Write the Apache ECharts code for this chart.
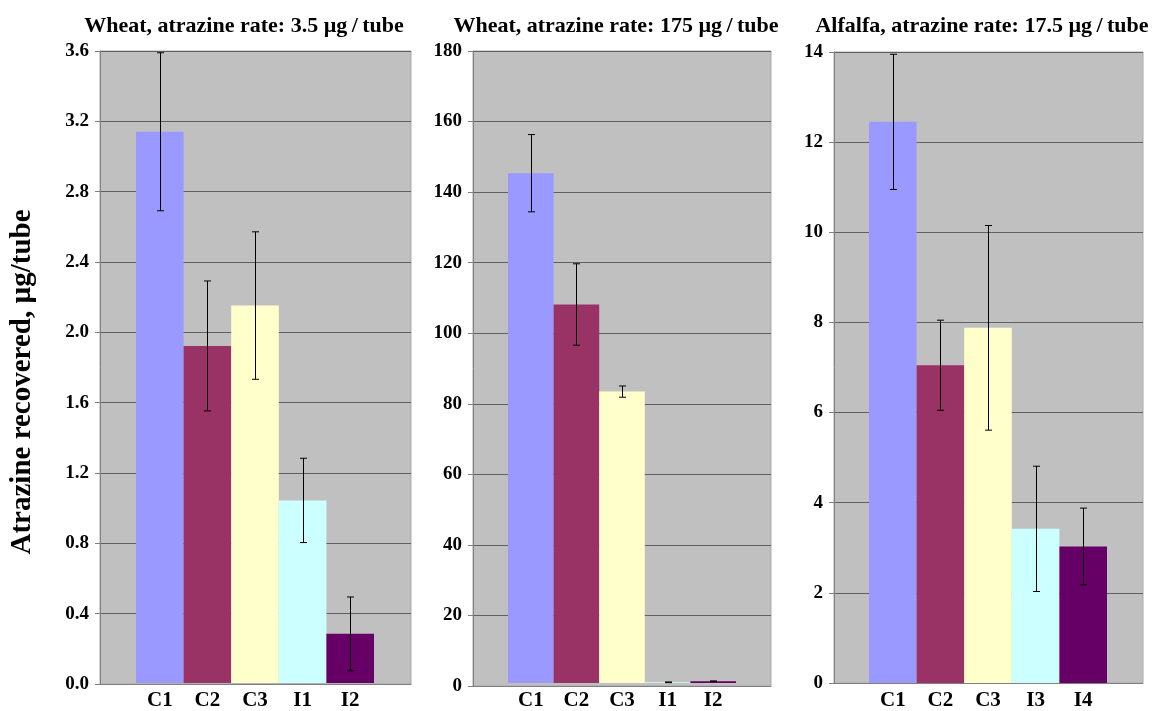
<!DOCTYPE html>
<html>
<head>
<meta charset="utf-8">
<script src="https://cdn.jsdelivr.net/npm/echarts@6/dist/echarts.min.js"></script>
<style>html,body{margin:0;padding:0;background:#fff}#c{width:1156px;height:711px}</style>
</head>
<body>
<div id="c"></div>
<script>
// ---- data ----
const titles = ['Wheat, atrazine rate: 3.5 µg\u2009/\u2009tube', 'Wheat, atrazine rate: 175 µg\u2009/\u2009tube', 'Alfalfa, atrazine rate: 17.5 µg\u2009/\u2009tube'];
const cats1 = ['C1', 'C2', 'C3', 'I1', 'I2'];
const cats2 = ['C1', 'C2', 'C3', 'I1', 'I2'];
const cats3 = ['C1', 'C2', 'C3', 'I3', 'I4'];
const vals1 = [3.14, 1.92, 2.15, 1.04, 0.28];
const errs1 = [0.45, 0.37, 0.42, 0.24, 0.21];
const vals2 = [145.2, 107.8, 83.0, 0.2, 0.5];
const errs2 = [11.0, 11.6, 1.6, 0.1, 0.1];
const vals3 = [12.45, 7.05, 7.88, 3.42, 3.03];
const errs3 = [1.5, 1.0, 2.27, 1.39, 0.85];
const yMax = [3.6, 180, 14];
const yStep = [0.4, 20, 2];
const yDigits = [1, 0, 0];
const colors = ['#9999FF', '#993366', '#FFFFCC', '#CCFFFF', '#660066'];
const yTitle = 'Atrazine recovered, µg/tube';

// ---- layout ----
const bgGrids = [
  {left: 100, top: 51, width: 311, height: 633},
  {left: 473, top: 51, width: 298, height: 635},
  {left: 834, top: 52, width: 309, height: 631}
];
const barGrids = [
  {left: 136, top: 51, width: 238, height: 633},
  {left: 508, top: 51, width: 228, height: 635},
  {left: 869, top: 52, width: 238, height: 631}
];
const titleX = [239, 611, 977];
const FONT = '"Liberation Serif","Times New Roman",serif';

const cats = [cats1, cats2, cats3];
const vals = [vals1, vals2, vals3];
const errs = [errs1, errs2, errs3];

const grid = [], xAxis = [], yAxis = [], series = [], title = [];
for (let p = 0; p < 3; p++) {
  const bg = bgGrids[p], bb = barGrids[p];
  grid.push(Object.assign({show: true, backgroundColor: '#C0C0C0', borderColor: '#A8A8A8', borderWidth: 1}, bg));
  grid.push(Object.assign({show: false}, bb));
  const gi = p * 2;
  // background axes
  xAxis.push({type: 'value', gridIndex: gi, min: 0, max: 1, show: true,
    axisLine: {show: true, onZero: false, lineStyle: {color: '#808080', width: 1}},
    axisTick: {show: false}, axisLabel: {show: false}, splitLine: {show: false}});
  yAxis.push({type: 'value', gridIndex: gi, min: 0, max: yMax[p], interval: yStep[p],
    axisLine: {show: true, lineStyle: {color: '#808080', width: 1}},
    axisTick: {show: true, length: 5, inside: false, lineStyle: {color: '#808080'}},
    axisLabel: {color: '#000', fontFamily: FONT, fontWeight: 'bold', fontSize: 19, margin: 11,
      formatter: (v) => v.toFixed(yDigits[p])},
    splitLine: {show: true, lineStyle: {color: '#606060', width: 1}}});
  // bar axes
  xAxis.push({type: 'category', gridIndex: gi + 1, data: cats[p],
    axisLine: {show: false}, axisTick: {show: false},
    axisLabel: {color: '#000', fontFamily: FONT, fontWeight: 'bold', fontSize: 21, margin: 7}});
  yAxis.push({type: 'value', gridIndex: gi + 1, min: 0, max: yMax[p], interval: yStep[p], show: false, splitLine: {show: false}});
  const ax = xAxis.length - 1;
  series.push({type: 'bar', xAxisIndex: ax, yAxisIndex: ax, barWidth: '100%', barCategoryGap: '0%',
    data: vals[p].map((v, i) => ({value: v, itemStyle: {color: colors[i]}})),
    animation: false, z: 2});
  series.push({type: 'custom', xAxisIndex: ax, yAxisIndex: ax, z: 5, animation: false,
    data: vals[p].map((v, i) => [i, Math.max(0, v - errs[p][i]), v + errs[p][i]]),
    renderItem: function (params, api) {
      const lo = api.coord([api.value(0), api.value(1)]);
      const hi = api.coord([api.value(0), api.value(2)]);
      const x = Math.round(lo[0]) + 0.5, c = 3.5;
      return {type: 'group', children: [
        {type: 'line', shape: {x1: x, y1: hi[1], x2: x, y2: lo[1]}, style: {stroke: '#000', lineWidth: 1}},
        {type: 'line', shape: {x1: x - c, y1: hi[1], x2: x + c, y2: hi[1]}, style: {stroke: '#000', lineWidth: 1}},
        {type: 'line', shape: {x1: x - c, y1: lo[1], x2: x + c, y2: lo[1]}, style: {stroke: '#000', lineWidth: 1}}
      ]};
    }});
  title.push({text: titles[p], left: titleX[p], top: 10, textAlign: 'center',
    textStyle: {fontFamily: FONT, fontWeight: 'bold', fontSize: 22, color: '#000'}});
}

const chart = echarts.init(document.getElementById('c'), null, {renderer: 'canvas'});
chart.setOption({
  animation: false,
  backgroundColor: '#fff',
  title: title,
  grid: grid,
  xAxis: xAxis,
  yAxis: yAxis,
  series: series,
  graphic: [{type: 'text', x: 23, y: 382, rotation: Math.PI / 2,
    style: {text: yTitle, textAlign: 'center', textVerticalAlign: 'middle',
      font: 'bold 29px ' + FONT, fill: '#000'}}]
});
</script>
</body>
</html>
